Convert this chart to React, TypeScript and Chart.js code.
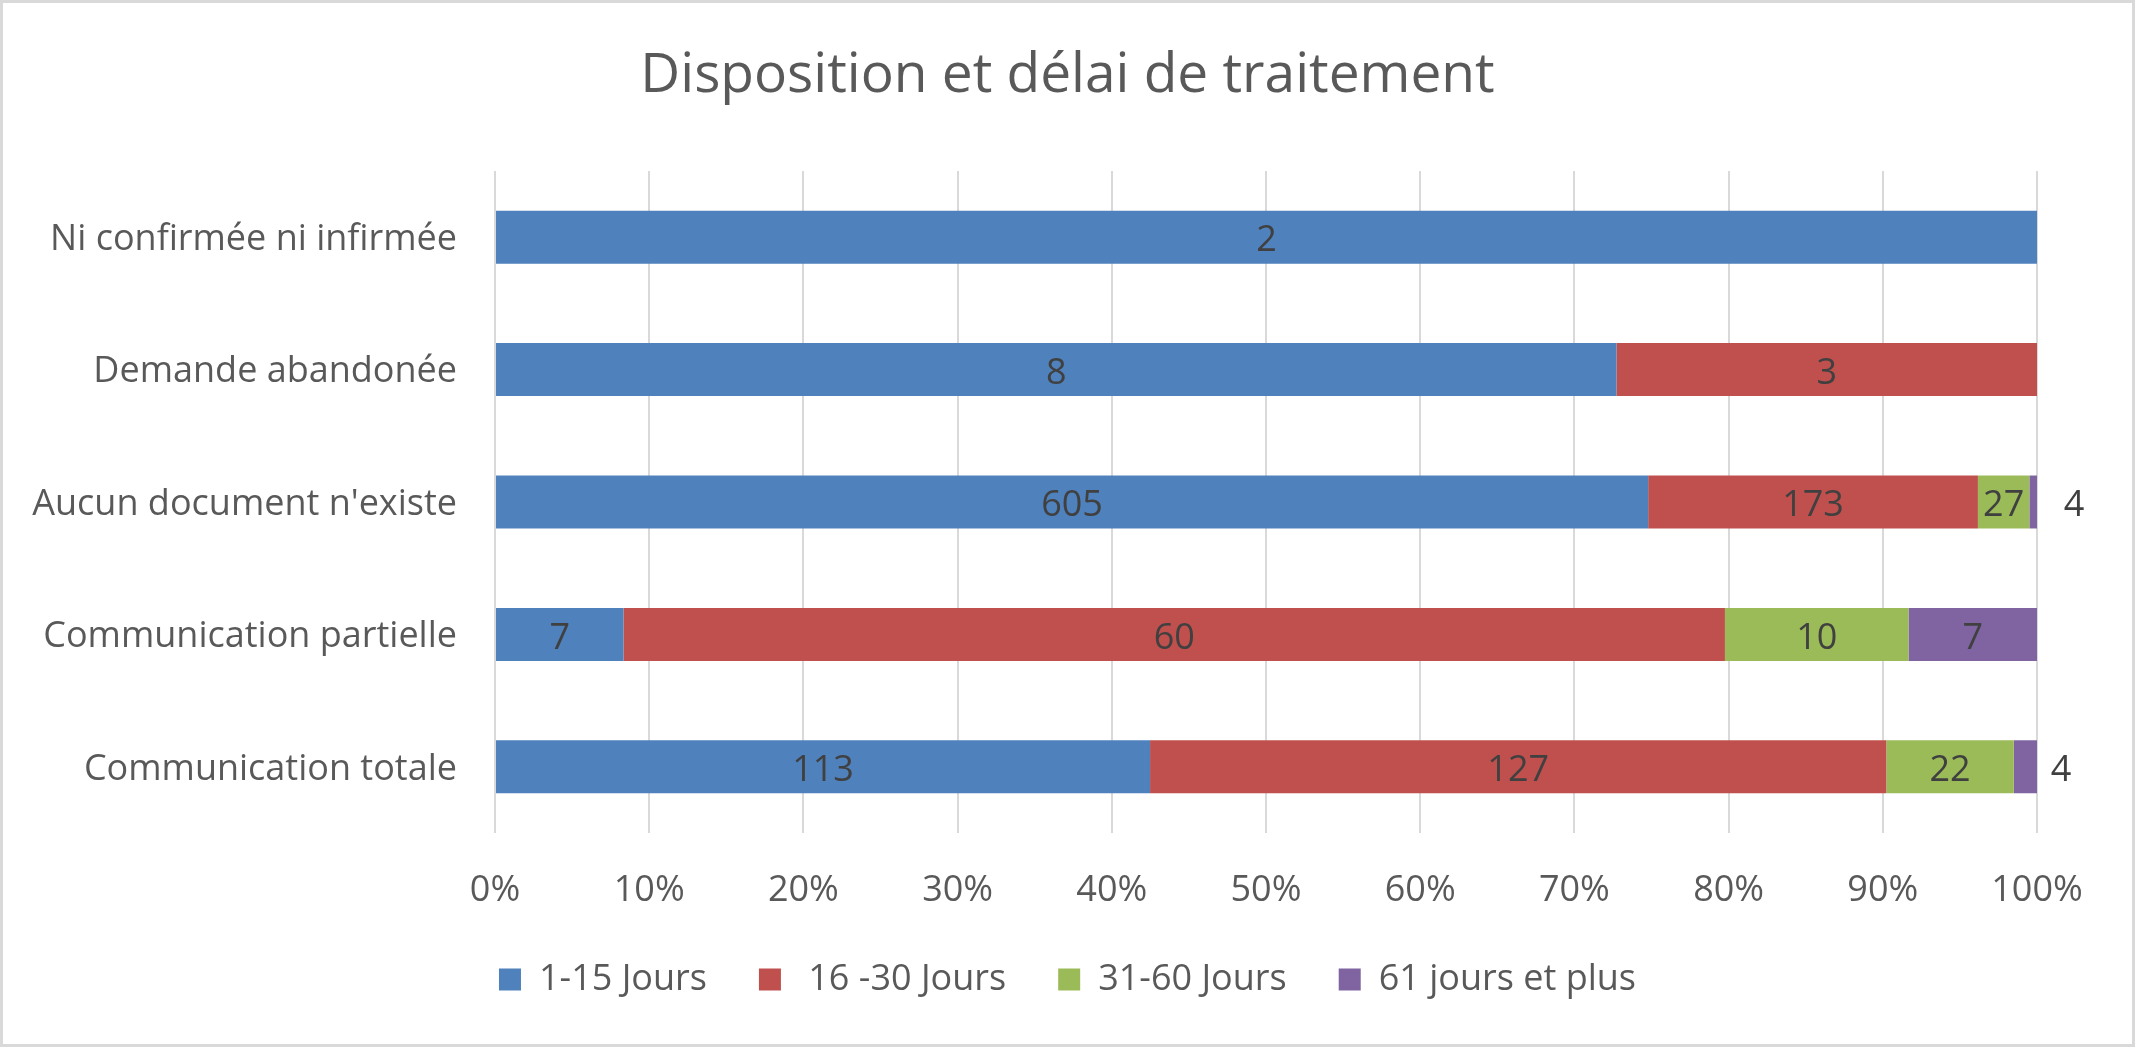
import React, { useEffect, useRef } from 'react';
import { Chart, registerables } from 'chart.js';

Chart.register(...registerables);

// ---- Data ----
const categories = [
  'Ni confirmée ni infirmée',
  'Demande abandonée',
  "Aucun document n'existe",
  'Communication partielle',
  'Communication totale',
];
const seriesNames = ['1-15 Jours', ' 16 -30 Jours', '31-60 Jours', '61 jours et plus'];
const days1to15 = [2, 8, 605, 7, 113];
const days16to30 = [0, 3, 173, 60, 127];
const days31to60 = [0, 0, 27, 10, 22];
const days61plus = [0, 0, 4, 7, 4];
const xTickLabels = ['0%', '10%', '20%', '30%', '40%', '50%', '60%', '70%', '80%', '90%', '100%'];
const chartTitle = 'Disposition et délai de traitement';

// ---- Style ----
const seriesColors = ['#4F81BD', '#C0504D', '#9BBB59', '#8064A2'];
const FONT = "'Open Sans', 'DejaVu Sans', sans-serif";
const TEXT = '#595959';
const LABEL_TEXT = '#404040';
const OUTSIDE_LABEL_GAP = [30, 30, 37, 30, 24];

const seriesCounts = [days1to15, days16to30, days31to60, days61plus];
const rowTotals = categories.map((_, i) => seriesCounts.reduce((s, arr) => s + arr[i], 0));
const seriesPercents = seriesCounts.map((arr) =>
  arr.map((v, i) => (v > 0 ? (v / rowTotals[i]) * 100 : null))
);

const segmentLabels = {
  id: 'segmentLabels',
  afterDatasetsDraw(chart: any) {
    const ctx = chart.ctx;
    ctx.save();
    ctx.font = `36px ${FONT}`;
    ctx.fillStyle = LABEL_TEXT;
    ctx.textBaseline = 'middle';
    ctx.textAlign = 'center';
    chart.data.datasets.forEach((_: any, di: number) => {
      const meta = chart.getDatasetMeta(di);
      meta.data.forEach((bar: any, i: number) => {
        const count = seriesCounts[di][i];
        if (!count) return;
        const { x, base, y } = bar.getProps(['x', 'base', 'y'], true);
        const w = Math.abs(x - base);
        const text = String(count);
        const tw = ctx.measureText(text).width;
        let lx = (x + base) / 2;
        if (tw + 6 > w) lx = Math.max(x, base) + OUTSIDE_LABEL_GAP[i];
        ctx.fillText(text, lx, y + 4);
      });
    });
    ctx.restore();
  },
};

export default function App() {
  const canvasRef = useRef<HTMLCanvasElement | null>(null);

  useEffect(() => {
    if (!canvasRef.current) return;
    Chart.defaults.font.family = FONT;
    Chart.defaults.color = TEXT;
    const chart = new Chart(canvasRef.current, {
      type: 'bar',
      data: {
        labels: categories,
        datasets: seriesNames.map((name, si) => ({
          label: name,
          data: seriesPercents[si],
          backgroundColor: seriesColors[si],
          borderWidth: 0,
          barPercentage: 0.5,
          categoryPercentage: 0.8,
        })),
      },
      options: {
        indexAxis: 'y',
        responsive: false,
        animation: false,
        devicePixelRatio: 1,
        layout: { padding: { left: 0, right: 0, top: 0, bottom: 36.5 } },
        scales: {
          x: {
            type: 'linear',
            stacked: true,
            min: 0,
            max: 100,
            ticks: {
              stepSize: 10,
              padding: 35.8,
              color: TEXT,
              font: { size: 36, family: FONT },
              callback: (v: any) => xTickLabels[Math.round(Number(v) / 10)],
            },
            grid: { color: '#D9D9D9', lineWidth: 2, drawTicks: false },
            border: { display: false },
            afterFit: (scale: any) => {
              scale.height = 76.5;
            },
          },
          y: {
            type: 'category',
            stacked: true,
            ticks: {
              padding: 38,
              labelOffset: 2.5,
              color: TEXT,
              font: { size: 36, family: FONT },
            },
            grid: { display: false, drawTicks: false },
            border: { display: false },
            afterFit: (scale: any) => {
              scale.width = 492;
            },
          },
          yRight: {
            type: 'category',
            position: 'right',
            display: true,
            ticks: { display: false },
            grid: { display: false, drawTicks: false },
            border: { display: false },
            afterFit: (scale: any) => {
              scale.width = 95;
            },
          },
        },
        plugins: {
          title: {
            display: true,
            text: chartTitle,
            color: TEXT,
            font: { size: 55, weight: 'normal', family: FONT },
            padding: { top: 40.4, bottom: 61.6 },
          },
          legend: {
            display: true,
            position: 'bottom',
            labels: {
              boxWidth: 22,
              boxHeight: 22,
              padding: 52,
              color: TEXT,
              font: { size: 36, family: FONT },
            },
          },
          tooltip: { enabled: false },
        },
      },
      plugins: [segmentLabels],
    } as any);
    return () => chart.destroy();
  }, []);

  return (
    <div
      style={{
        position: 'fixed',
        left: 0,
        top: 0,
        width: 2135,
        height: 1047,
        boxSizing: 'border-box',
        border: '3px solid #D9D9D9',
        background: '#fff',
        overflow: 'hidden',
      }}
    >
      <canvas ref={canvasRef} width={2129} height={1041} style={{ display: 'block' }} />
    </div>
  );
}
